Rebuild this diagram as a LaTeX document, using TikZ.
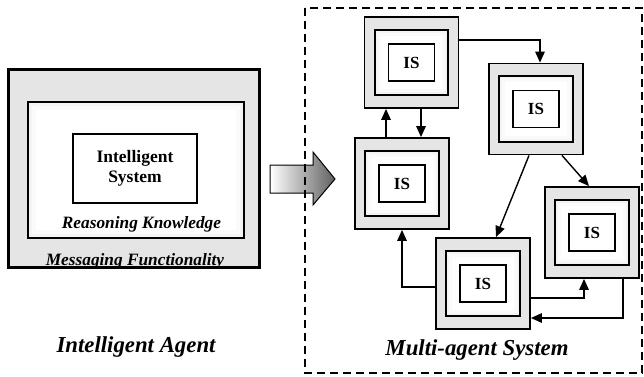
\documentclass[tikz,border=0pt]{standalone}
\usepackage{fontspec}
\setmainfont{Liberation Serif}
\usetikzlibrary{arrows.meta,calc}
\tikzset{
  outerbox/.style={draw=black,line width=1.8pt,fill=gray!20,minimum width=94pt,minimum height=91pt,inner sep=0pt},
  midbox/.style={draw=black,line width=1.8pt,fill=white,minimum width=72pt,minimum height=64pt,inner sep=0pt},
  innerbox/.style={draw=black,line width=1.6pt,fill=white,minimum width=46pt,minimum height=37pt,inner sep=0pt,font=\fontsize{17}{19}\selectfont\bfseries},
  link/.style={line width=1.4pt,-{Triangle[length=11pt,width=9.5pt]}},
  caption/.style={font=\fontsize{22.8}{25}\selectfont\bfseries\itshape,anchor=base,inner sep=0pt},
  label/.style={font=\fontsize{17.3}{19}\selectfont\bfseries\itshape,anchor=base,inner sep=0pt}
}
\newcommand\isunit[3]{%
  \node[outerbox] (#1) at (#2,#3) {};
  \node[midbox] (#1m) at (#2,#3) {};
  \fill[gray!9] ($(#1m.north west)+(1,1)$) rectangle ($(#1m.south east)+(-1,-1)$);
  \fill[gray!4] ($(#1m.north west)+(3,3)$) rectangle ($(#1m.south east)+(-3,-3)$);
  \fill[white] ($(#1m.north west)+(6,6)$) rectangle ($(#1m.south east)+(-6,-6)$);
  \draw[line width=1.8pt] (#1m.north west) rectangle (#1m.south east);
  \node[innerbox] (#1i) at (#2,#3) {IS};
}
\begin{document}
\begin{tikzpicture}[x=1pt,y=-1pt]
\useasboundingbox (0,0) rectangle (644,376);
% left agent
\node[draw=black,line width=1.8pt,fill=gray!20,minimum width=250pt,minimum height=197pt,inner sep=0pt] (ag) at (134,168.5) {};
\node[draw=black,line width=1.8pt,fill=white,minimum width=214pt,minimum height=134pt,inner sep=0pt] (rk) at (136,170) {};
\fill[gray!9] ($(rk.north west)+(1,1)$) rectangle ($(rk.south east)+(-1,-1)$);
\fill[gray!4] ($(rk.north west)+(4,4)$) rectangle ($(rk.south east)+(-4,-4)$);
\fill[white] ($(rk.north west)+(8,8)$) rectangle ($(rk.south east)+(-8,-8)$);
\draw[line width=1.8pt] (rk.north west) rectangle (rk.south east);
\node[draw=black,line width=1.8pt,fill=white,minimum width=124pt,minimum height=69pt,inner sep=0pt,align=center,font=\fontsize{17.5}{20}\selectfont\bfseries] (isys) at (135,168.5) {Intelligent\\System};
\node[label] (rktext) at (141.5,228) {Reasoning Knowledge};
\node[label] (mftext) at (135,265) {Messaging Functionality};
\draw[line width=1.8pt] (ag.north west) rectangle (ag.south east);
\node[caption] (capA) at (136,352) {Intelligent Agent};
% big arrow
\shade[left color=white,right color=gray!75!black,draw=black,line width=1pt]
  (270,165) -- (313,165) -- (313,152) -- (335,179) -- (313,205) -- (313,193) -- (270,193) -- cycle;
\coordinate (bigarrow) at (302,179);
% dashed system box
\draw[line width=1.8pt,dash pattern=on 8pt off 5pt] (305,8) rectangle (642,373);
% units
\isunit{u1}{411.5}{62.5}
\isunit{u2}{536}{109}
\isunit{u3}{402}{183.5}
\isunit{u4}{483}{283.5}
\isunit{u5}{592}{232.5}
% links
\draw[link] ($(u1.east)+(0,-22.5)$) -| ($(u2.north)+(4,0)$);
\draw[link] ($(u1.south)+(9.5,0)$) -- ($(u3.north)+(19,0)$);
\draw[link] ($(u3.north)+(-16,0)$) -- ($(u1.south)+(-25.5,0)$);
\draw[link] ($(u2.south)+(-7,0)$) -- ($(u4.north)+(13,0)$);
\draw[link] ($(u2.south)+(26,0)$) -- ($(u5.north)+(-3,0)$);
\draw[link] ($(u4.west)+(0,3.5)$) -| (u3.south);
\draw[link] ($(u4.east)+(0,14.5)$) -| ($(u5.south)+(-8,0)$);
\draw[link] ($(u5.south)+(31,0)$) |- ($(u4.east)+(0,34.5)$);
\node[caption] (capM) at (477,355) {Multi-agent System};
\end{tikzpicture}
\end{document}
